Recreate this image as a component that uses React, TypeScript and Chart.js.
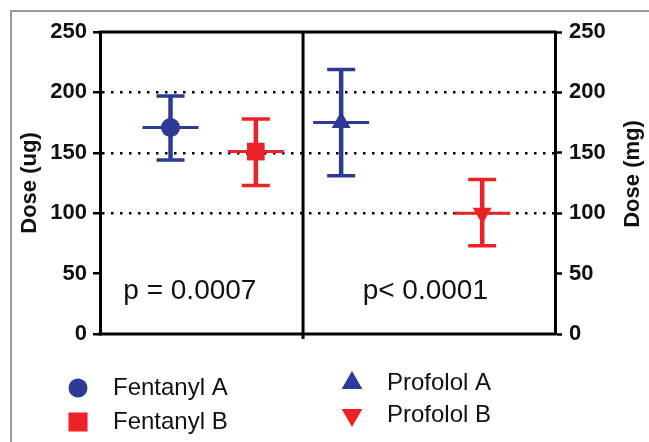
import React, { useEffect, useRef } from "react";
import { Chart, registerables } from "chart.js";

Chart.register(...registerables);

// ---- data ----
const groups = ["Fentanyl A", "Fentanyl B", "Profolol A", "Profolol B"];
const xPos = [0.62, 1.37, 2.12, 3.36];
const means = [171, 151, 175, 100];
const lows = [144, 123, 131, 73];
const highs = [197, 178, 219, 128];
const colors = ["#2D3A96", "#EC2227", "#2D3A96", "#EC2227"];
const markers = ["circle", "rect", "triangle", "triangle"];
const markerRotation = [0, 0, 0, 180];
const markerRadius = [9.5, 12.5, 11, 11];
const dividerX = 1.785;
const yTicks = [0, 50, 100, 150, 200, 250];
const dottedAt = [100, 150, 200];
const pTexts = ["p = 0.0007", "p< 0.0001"];
const pTextX = [0.79, 2.86];
const pTextY = 35;
const leftTitle = "Dose (ug)";
const rightTitle = "Dose (mg)";

const FONT = "Arial, 'Liberation Sans', Helvetica, sans-serif";

function drawMarker(ctx: CanvasRenderingContext2D, style: string, rot: number, x: number, y: number, r: number, color: string) {
  ctx.save();
  ctx.fillStyle = color;
  ctx.beginPath();
  if (style === "circle") {
    ctx.arc(x, y, r, 0, Math.PI * 2);
  } else if (style === "rect") {
    const s = Math.SQRT1_2 * r;
    ctx.rect(x - s, y - s, 2 * s, 2 * s);
  } else {
    let rad = (rot * Math.PI) / 180;
    ctx.moveTo(x + Math.sin(rad) * r, y - Math.cos(rad) * r);
    rad += (2 * Math.PI) / 3;
    ctx.lineTo(x + Math.sin(rad) * r, y - Math.cos(rad) * r);
    rad += (2 * Math.PI) / 3;
    ctx.lineTo(x + Math.sin(rad) * r, y - Math.cos(rad) * r);
    ctx.closePath();
  }
  ctx.fill();
  ctx.restore();
}

const errorBarPlugin = {
  id: "errorBars",
  beforeDatasetsDraw(chart: any) {
    const { ctx, scales } = chart;
    const xs = scales.x;
    const ys = scales.y;
    ctx.save();
    for (let i = 0; i < groups.length; i++) {
      const px = xs.getPixelForValue(xPos[i]);
      const pm = ys.getPixelForValue(means[i]);
      const pl = ys.getPixelForValue(lows[i]);
      const ph = ys.getPixelForValue(highs[i]);
      ctx.strokeStyle = colors[i];
      ctx.lineCap = "butt";
      ctx.lineWidth = 4.5;
      ctx.beginPath();
      ctx.moveTo(px, ph);
      ctx.lineTo(px, pl);
      ctx.stroke();
      ctx.lineWidth = 3.5;
      ctx.beginPath();
      ctx.moveTo(px - 14, ph);
      ctx.lineTo(px + 14, ph);
      ctx.moveTo(px - 14, pl);
      ctx.lineTo(px + 14, pl);
      ctx.stroke();
      ctx.lineWidth = 3;
      ctx.beginPath();
      ctx.moveTo(px - 28, pm);
      ctx.lineTo(px + 28, pm);
      ctx.stroke();
    }
    ctx.restore();
  },
  afterDraw(chart: any) {
    const { ctx, scales, chartArea } = chart;
    const xs = scales.x;
    const ys = scales.y;
    ctx.save();
    // outer gray frame
    ctx.strokeStyle = "#9a9a9a";
    ctx.lineWidth = 2;
    ctx.beginPath();
    ctx.moveTo(11, 450);
    ctx.lineTo(11, 11);
    ctx.lineTo(660, 11);
    ctx.stroke();
    // top and bottom frame
    ctx.strokeStyle = "#000";
    ctx.lineWidth = 3;
    ctx.beginPath();
    ctx.moveTo(chartArea.left - 1.5, ys.getPixelForValue(250));
    ctx.lineTo(chartArea.right + 1.5, ys.getPixelForValue(250));
    ctx.moveTo(chartArea.left - 1.5, ys.getPixelForValue(0));
    ctx.lineTo(chartArea.right + 1.5, ys.getPixelForValue(0));
    ctx.stroke();
    // divider
    const dx = xs.getPixelForValue(dividerX);
    ctx.lineWidth = 3;
    ctx.beginPath();
    ctx.moveTo(dx, ys.getPixelForValue(250));
    ctx.lineTo(dx, ys.getPixelForValue(0) + 5);
    ctx.stroke();
    // right axis title (reads bottom to top)
    ctx.save();
    ctx.translate(633, (chartArea.top + chartArea.bottom) / 2 - 9);
    ctx.rotate(-Math.PI / 2);
    ctx.fillStyle = "#111";
    ctx.font = `bold 22px ${FONT}`;
    ctx.textAlign = "center";
    ctx.textBaseline = "middle";
    ctx.fillText(rightTitle, 0, 0);
    ctx.restore();
    // p texts
    ctx.fillStyle = "#111";
    ctx.font = `28px ${FONT}`;
    ctx.textAlign = "center";
    ctx.textBaseline = "middle";
    for (let i = 0; i < pTexts.length; i++) {
      ctx.fillText(pTexts[i], xs.getPixelForValue(pTextX[i]), ys.getPixelForValue(pTextY));
    }
    // legend
    const legendPos = [
      [78, 388],
      [78, 422],
      [352, 383],
      [352, 415],
    ];
    const legendR = [9.5, 13.5, 12, 12];
    ctx.font = `24px ${FONT}`;
    ctx.textAlign = "left";
    for (let i = 0; i < groups.length; i++) {
      const [lx, ly] = legendPos[i];
      drawMarker(ctx, markers[i], markerRotation[i], lx, ly, legendR[i], colors[i]);
      ctx.fillStyle = "#111";
      ctx.fillText(groups[i], lx + 35, ly);
    }
    ctx.restore();
  },
};

export default function App() {
  const ref = useRef<HTMLCanvasElement | null>(null);
  useEffect(() => {
    if (!ref.current) return;
    const datasets = groups.map((g, i) => ({
      label: g,
      data: [{ x: xPos[i], y: means[i] }],
      pointStyle: markers[i] as any,
      rotation: markerRotation[i],
      radius: markerRadius[i],
      pointRadius: markerRadius[i],
      backgroundColor: colors[i],
      borderColor: colors[i],
      borderWidth: 0,
      showLine: false,
    }));
    const tickFont = { family: FONT, size: 22, weight: "bold" as const };
    const chart = new Chart(ref.current, {
      type: "scatter",
      data: { datasets },
      plugins: [errorBarPlugin],
      options: {
        animation: false,
        responsive: false,
        devicePixelRatio: 1,
        layout: { padding: { top: 32, bottom: 108, left: 0, right: 0 } },
        plugins: { legend: { display: false }, tooltip: { enabled: false } },
        scales: {
          x: { type: "linear", min: 0, max: 4, display: false },
          y: {
            type: "linear",
            position: "left",
            min: 0,
            max: 250,
            afterBuildTicks: (s: any) => {
              s.ticks = yTicks.map((v) => ({ value: v }));
            },
            afterFit: (s: any) => {
              s.width = 100;
            },
            ticks: { font: tickFont, color: "#111", padding: 6 },
            grid: {
              drawOnChartArea: true,
              color: (c: any) => (c.tick && dottedAt.includes(c.tick.value) ? "#000" : "rgba(0,0,0,0)"),
              lineWidth: 2.5,
              tickColor: "#000",
              tickWidth: 2.5,
              tickLength: 7,
            },
            border: { display: true, color: "#000", width: 3, dash: [2.5, 6.5] },
            title: {
              display: true,
              text: leftTitle,
              font: { family: FONT, size: 22, weight: "bold" },
              color: "#111",
              padding: { top: 17, bottom: 0 },
            },
          },
          y2: {
            type: "linear",
            position: "right",
            min: 0,
            max: 250,
            afterBuildTicks: (s: any) => {
              s.ticks = yTicks.map((v) => ({ value: v }));
            },
            afterFit: (s: any) => {
              s.width = 94;
            },
            ticks: { font: tickFont, color: "#111", padding: 7 },
            grid: {
              drawOnChartArea: false,
              color: "#000",
              tickColor: "#000",
              tickWidth: 2.5,
              tickLength: 7,
            },
            border: { display: true, color: "#000", width: 3 },
            title: { display: false },
          },
        },
      },
    });
    return () => chart.destroy();
  }, []);
  return (
    <div style={{ position: "absolute", left: 0, top: 0, width: 649, height: 442, background: "#fff" }}>
      <canvas ref={ref} width={649} height={442} style={{ display: "block" }} />
    </div>
  );
}
